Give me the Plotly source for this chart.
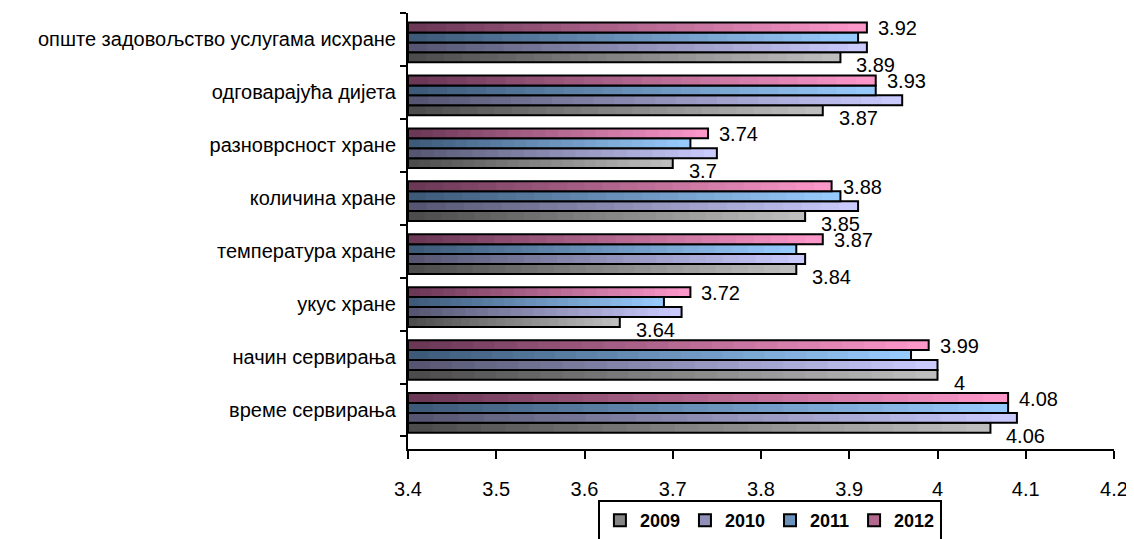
import plotly.graph_objects as go

# categories, top to bottom as in the chart
categories = [
    "опште задовољство услугама исхране",
    "одговарајућа дијета",
    "разноврсност хране",
    "количина хране",
    "температура хране",
    "укус хране",
    "начин сервирања",
    "време сервирања",
]
years = ["2009", "2010", "2011", "2012"]
v2009 = [3.89, 3.87, 3.70, 3.85, 3.84, 3.64, 4.00, 4.06]
v2010 = [3.92, 3.96, 3.75, 3.91, 3.85, 3.71, 4.00, 4.09]
v2011 = [3.91, 3.93, 3.72, 3.89, 3.84, 3.69, 3.97, 4.08]
v2012 = [3.92, 3.93, 3.74, 3.88, 3.87, 3.72, 3.99, 4.08]
series = [v2009, v2010, v2011, v2012]

# gradient ends (dark left -> light right)
grad = {
    "2009": ((74, 74, 74), (192, 192, 192)),
    "2010": ((84, 84, 112), (204, 204, 255)),
    "2011": ((60, 88, 118), (153, 204, 255)),
    "2012": ((104, 54, 84), (255, 153, 204)),
}

BASE = 3.4
N = 24
FONT = "Liberation Sans, Arial, sans-serif"
BAR_W = 0.1875          # bar thickness in category units
SHIFT = -0.055          # whole group sits a little below the category centre

fig = go.Figure()


def mix(a, b, t):
    return "rgb(%d,%d,%d)" % tuple(round(a[k] + (b[k] - a[k]) * t) for k in range(3))


for j, (yr, vals) in enumerate(zip(years, series)):
    dark, light = grad[yr]
    off = -2 * BAR_W + j * BAR_W + SHIFT
    # gradient: longest (lightest) first, shorter darker bars on top
    for i in range(N):
        frac = (N - i) / N
        fig.add_trace(go.Bar(
            y=categories, x=[(v - BASE) * frac for v in vals], base=BASE,
            orientation="h", width=BAR_W, offset=off,
            marker=dict(color=mix(dark, light, (N - i - 0.5) / N), line=dict(width=0)),
            showlegend=False, hoverinfo="skip",
        ))
    # black outline
    fig.add_trace(go.Bar(
        y=categories, x=[v - BASE for v in vals], base=BASE,
        orientation="h", width=BAR_W, offset=off,
        marker=dict(color="rgba(0,0,0,0)", line=dict(color="black", width=2)),
        showlegend=False, name=yr,
    ))
    # legend entry
    fig.add_trace(go.Bar(
        y=[None], x=[None], orientation="h", name=yr,
        marker=dict(color=mix(dark, light, 0.5), line=dict(color="black", width=2)),
    ))

# data labels for 2012 (top bar) and 2009 (bottom bar)
for c, v in zip(categories, v2012):
    fig.add_annotation(x=v, y=c, text=f"{v:g}", showarrow=False, xanchor="left",
                       yanchor="middle", xshift=9, yshift=11,
                       font=dict(family=FONT, size=20, color="black"))
for c, v in zip(categories, v2009):
    fig.add_annotation(x=v, y=c, text=f"{v:g}", showarrow=False, xanchor="left",
                       yanchor="middle", xshift=14, yshift=-26,
                       font=dict(family=FONT, size=20, color="black"))

# page body adds an 8px margin, so the figure is 8px smaller and margins shifted
fig.update_layout(
    width=1126, height=531,
    margin=dict(l=400, r=20, t=5, b=90, autoexpand=False),
    plot_bgcolor="white", paper_bgcolor="white",
    barmode="overlay",
    font=dict(family=FONT, size=20, color="black"),
    legend=dict(
        orientation="h", x=0.269, xanchor="left", y=-0.117, yanchor="top",
        bordercolor="black", borderwidth=2, traceorder="normal",
        font=dict(family=FONT, size=18, color="black", weight="bold"),
        itemwidth=30, tracegroupgap=0,
    ),
)
fig.update_xaxes(
    range=[3.4, 4.2], dtick=0.1, tick0=3.4, showgrid=False, zeroline=False,
    showline=True, linecolor="black", linewidth=2,
    ticks="outside", ticklen=8, tickwidth=2, tickcolor="black",
    ticklabelstandoff=13, tickfont=dict(size=20),
)
fig.update_yaxes(
    categoryorder="array", categoryarray=categories[::-1],
    showgrid=False, showline=True, linecolor="black", linewidth=2,
    ticks="outside", ticklen=6, tickwidth=2, tickcolor="black",
    tickson="boundaries", ticklabelstandoff=6, tickfont=dict(size=20),
)

fig.write_html("out.html")
